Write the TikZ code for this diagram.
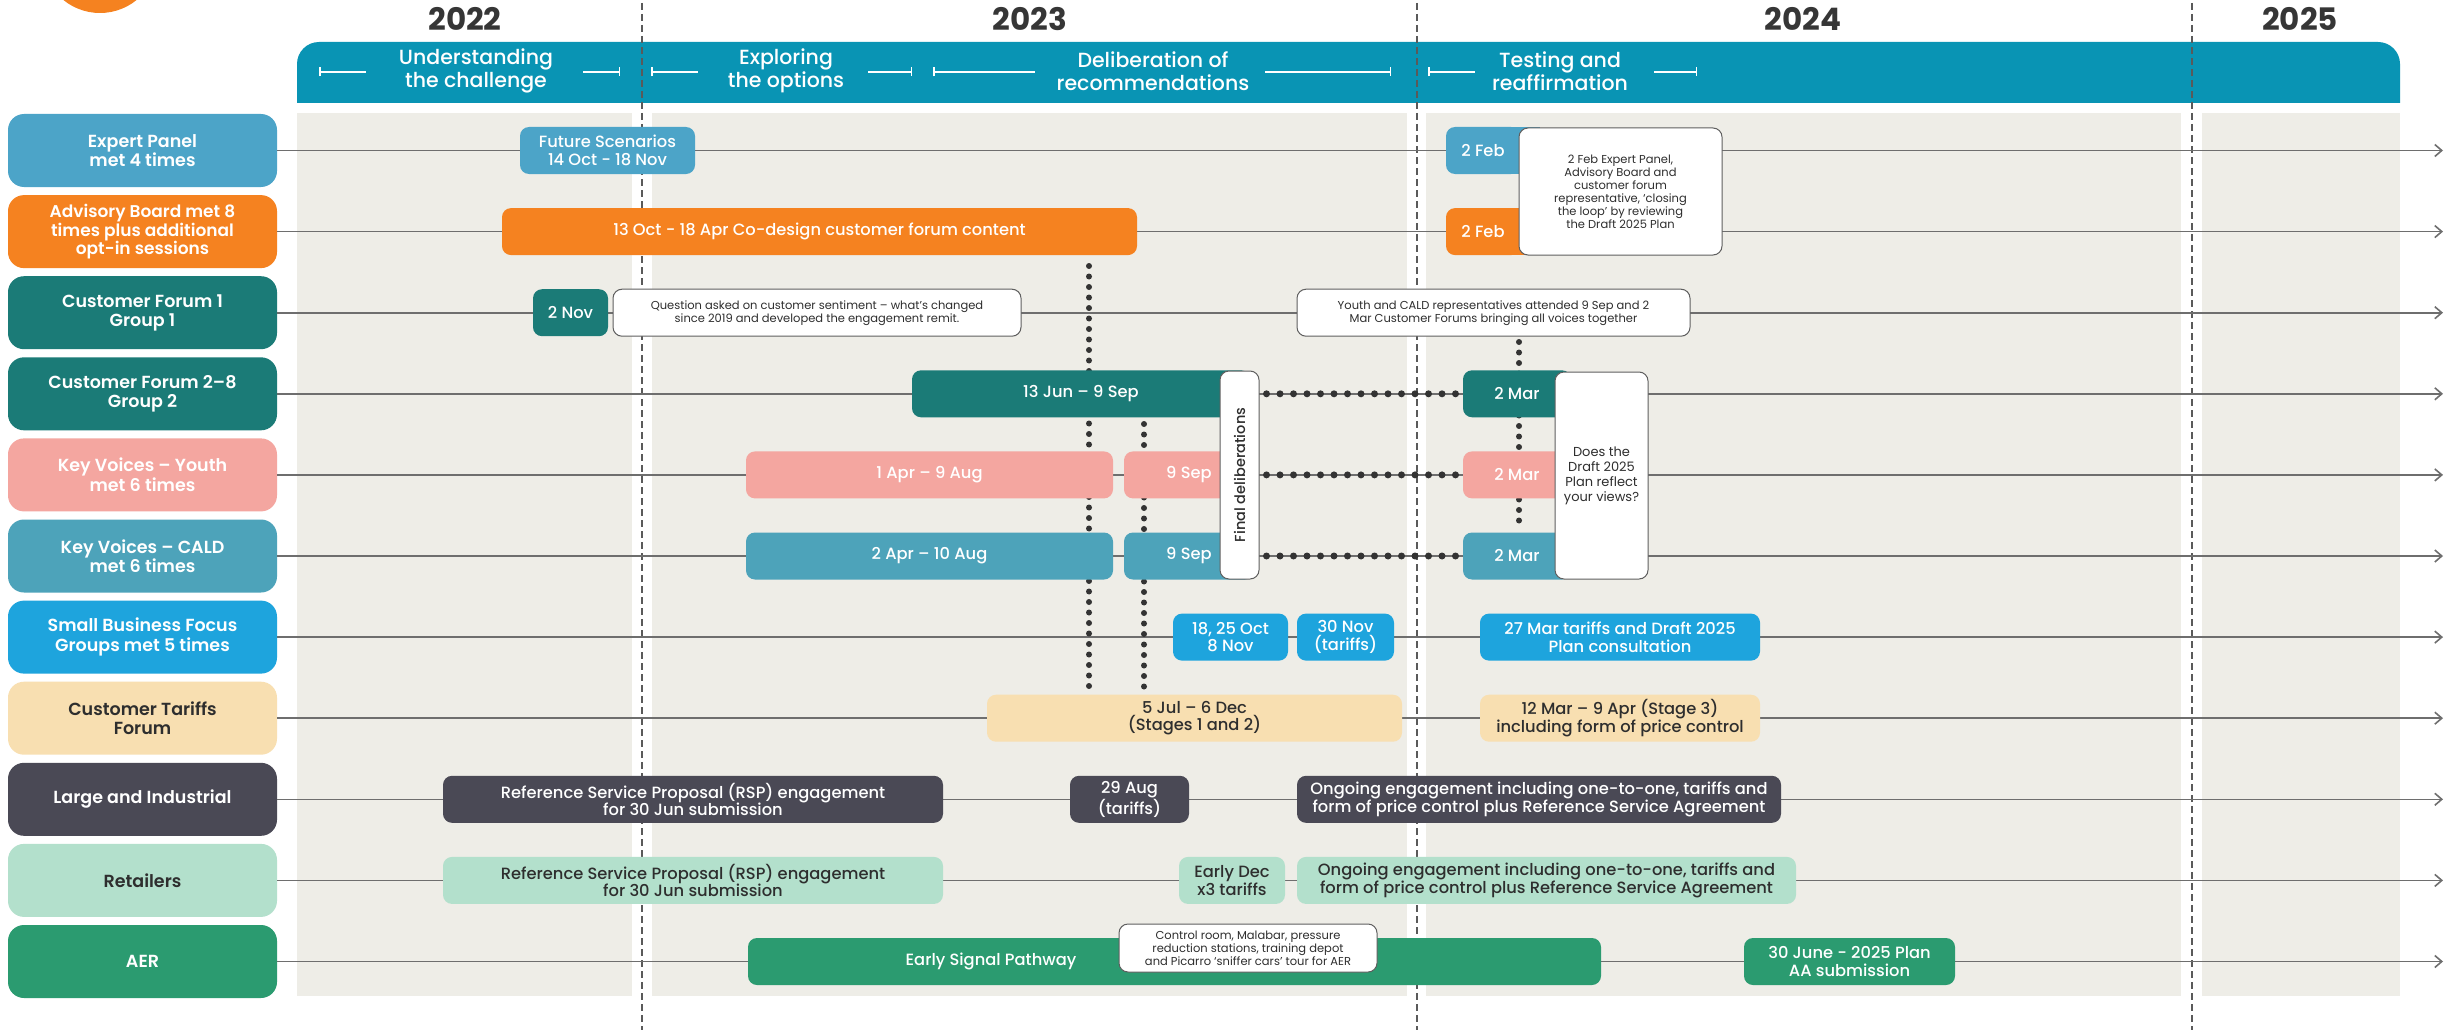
\documentclass[tikz,border=0pt]{standalone}
\usepackage{fontspec}
\setmainfont{Poppins}
\newfontfamily\pmed{Poppins Medium}
\newfontfamily\psemi{Poppins SemiBold}
\usetikzlibrary{arrows.meta}
\definecolor{hdr}{HTML}{0994B4}
\definecolor{panel}{HTML}{EEEDE7}
\definecolor{expc}{HTML}{4CA4C8}
\definecolor{orc}{HTML}{F58220}
\definecolor{teal}{HTML}{1B7B77}
\definecolor{salm}{HTML}{F4A6A0}
\definecolor{cald}{HTML}{4DA3BA}
\definecolor{sbc}{HTML}{1EA4DD}
\definecolor{tarc}{HTML}{F8DFB1}
\definecolor{largec}{HTML}{4A4955}
\definecolor{retc}{HTML}{B3E0CC}
\definecolor{aerc}{HTML}{2B9B70}
\definecolor{textdark}{HTML}{2E2E2E}
\definecolor{yearc}{HTML}{363636}
\definecolor{linegray}{HTML}{6E6E6E}
\definecolor{dashgray}{HTML}{5A5A5A}
\definecolor{dotc}{HTML}{333333}
\definecolor{notegray}{HTML}{5F5F5F}
\begin{document}
\begin{tikzpicture}[x=1pt,y=-1pt,
  lab/.style={rounded corners=16pt, minimum width=269pt, minimum height=73pt, inner sep=0pt, align=center, text=white, font=\psemi\fontsize{17.5}{19.5}\selectfont},
  ev/.style={rounded corners=9pt, minimum height=47pt, inner sep=0pt, align=center, text=white, font=\pmed\fontsize{16.3}{17.5}\selectfont},
  note/.style={draw=notegray, line width=1pt, fill=white, rounded corners=9pt, inner sep=0pt, align=center, text=textdark, font=\fontsize{11.5}{13}\selectfont},
  tl/.style={draw=linegray, line width=1.6pt, -{Straight Barb[length=7pt,width=12pt]}},
  yd/.style={draw=dashgray, line width=1.3pt, dash pattern=on 7pt off 4pt},
  vdots/.style={draw=dotc, line width=6pt, line cap=round, dash pattern=on 0pt off 10.5pt},
  hdots/.style={draw=dotc, line width=7pt, line cap=round, dash pattern=on 0pt off 13.5pt},
  hm/.style={draw=white, line width=1.5pt},
  hdtext/.style={text=white, align=center, font=\pmed\fontsize{20.5}{22.5}\selectfont},
  yr/.style={text=yearc, font=\bfseries\fontsize{31}{33}\selectfont},
]
\useasboundingbox (0,0) rectangle (2448,1030);
\fill[white] (0,0) rectangle (2448,1030);
% top-left orange circle
\fill[orc] (100,-45) circle (58);
% grey panels
\fill[panel] (297,113) rectangle (632,996);
\fill[panel] (652,113) rectangle (1407,996);
\fill[panel] (1426,113) rectangle (2181,996);
\fill[panel] (2202,113) rectangle (2400,996);
% header band
\fill[hdr] (297,103) [rounded corners=22pt] -- (297,42) -- (2400,42) [sharp corners] -- (2400,103) -- cycle;
% years
\node[yr] (y22) at (465,19) {2022};
\node[yr] (y23) at (1030,19) {2023};
\node[yr] (y24) at (1803,19) {2024};
\node[yr] (y25) at (2300,19) {2025};
% header phases
\node[hdtext] (h1) at (476,71) {Understanding\\the challenge};
\node[hdtext] (h2) at (786,71) {Exploring\\the options};
\node[hdtext] (h3) at (1153,71) {Deliberation of\\recommendations};
\node[hdtext] (h4) at (1560,71) {Testing and\\reaffirmation};
\draw[hm,{Bar[width=9pt]}-] (319,72) -- (366,72);
\draw[hm,-{Bar[width=9pt]}] (583,72) -- (620,72);
\draw[hm,{Bar[width=9pt]}-] (651,72) -- (698,72);
\draw[hm,-{Bar[width=9pt]}] (868,72) -- (912,72);
\draw[hm,{Bar[width=9pt]}-] (933,72) -- (1035,72);
\draw[hm,-{Bar[width=9pt]}] (1265,72) -- (1391,72);
\draw[hm,{Bar[width=9pt]}-] (1428,72) -- (1475,72);
\draw[hm,-{Bar[width=9pt]}] (1654,72) -- (1697,72);
% year dividers
\coordinate (d1a) at (642,3); \coordinate (d1b) at (642,1030);
\coordinate (d2a) at (1417,3); \coordinate (d2b) at (1417,1030);
\coordinate (d3a) at (2192,3); \coordinate (d3b) at (2192,1030);
\draw[yd] (d1a) -- (d1b);
\draw[yd] (d2a) -- (d2b);
\draw[yd] (d3a) -- (d3b);
% row labels
\node[lab, fill=expc] (L0) at (142.5,150.5) {Expert Panel\\met 4 times};
\node[lab, fill=orc, font=\psemi\fontsize{17}{17.5}\selectfont] (L1) at (142.5,231.6) {Advisory Board met 8\\times plus additional\\opt-in sessions};
\node[lab, fill=teal] (L2) at (142.5,312.7) {Customer Forum 1\\Group 1};
\node[lab, fill=teal] (L3) at (142.5,393.8) {Customer Forum 2–8\\Group 2};
\node[lab, fill=salm] (L4) at (142.5,474.9) {Key Voices – Youth\\met 6 times};
\node[lab, fill=cald] (L5) at (142.5,556.0) {Key Voices – CALD\\met 6 times};
\node[lab, fill=sbc] (L6) at (142.5,637.1) {Small Business Focus\\Groups met 5 times};
\node[lab, fill=tarc, text=textdark] (L7) at (142.5,718.2) {Customer Tariffs\\Forum};
\node[lab, fill=largec] (L8) at (142.5,799.3) {Large and Industrial};
\node[lab, fill=retc, text=textdark] (L9) at (142.5,880.4) {Retailers};
\node[lab, fill=aerc] (L10) at (142.5,961.5) {AER};
% timelines
\foreach \i/\c in {0/150.5,1/231.6,2/312.7,3/393.8,4/474.9,5/556.0,6/637.1,7/718.2,8/799.3,9/880.4,10/961.5}{
  \coordinate (E\i) at (2443,\c);
  \draw[tl] (L\i.east) -- (E\i);
}
% vertical dotted links
\coordinate (vA1) at (1089,266); \coordinate (vA2) at (1089,690);
\coordinate (vB1) at (1144,424); \coordinate (vB2) at (1144,690);
\coordinate (vC1) at (1519,342); \coordinate (vC2) at (1519,528);
\draw[vdots] (vA1) -- (vA2);
\draw[vdots] (vB1) -- (vB2);
\draw[vdots] (vC1) -- (vC2);
% row 0
\node[ev, fill=expc, minimum width=175pt] (fs) at (607.5,150.5) {Future Scenarios\\14 Oct - 18 Nov};
\fill[expc] (1500,127) rectangle (1540,174);
\node[ev, fill=expc, minimum width=74pt] (ep2) at (1483,150.5) {2 Feb};
% row 1
\node[ev, fill=orc, minimum width=635pt] (ab1) at (819.5,231.6) {13 Oct - 18 Apr Co-design customer forum content};
\fill[orc] (1500,208) rectangle (1540,255);
\node[ev, fill=orc, minimum width=74pt] (ab2) at (1483,231.6) {2 Feb};
% row 2
\node[ev, fill=teal, minimum width=75pt] (cf1) at (570.5,312.7) {2 Nov};
\node[note, minimum width=408pt, minimum height=47pt] (nq) at (817,312.7) {Question asked on customer sentiment – what’s changed\\since 2019 and developed the engagement remit.};
\node[note, minimum width=393pt, minimum height=47pt] (ny) at (1493.5,312.7) {Youth and CALD representatives attended 9 Sep and 2\\Mar Customer Forums bringing all voices together};
% rows 3-5
\node[ev, fill=teal, minimum width=338pt] (cf2a) at (1081,393.8) {13 Jun – 9 Sep};
\node[ev, fill=teal, minimum width=108pt] (cf2b) at (1517,393.8) {2 Mar};
\node[ev, fill=salm, minimum width=367pt] (yv1) at (929.5,474.9) {1 Apr – 9 Aug};
\node[ev, fill=salm, minimum width=130pt] (yv2) at (1189,474.9) {9 Sep};
\node[ev, fill=salm, minimum width=108pt] (yv3) at (1517,474.9) {2 Mar};
\node[ev, fill=cald, minimum width=367pt] (cv1) at (929.5,556.0) {2 Apr – 10 Aug};
\node[ev, fill=cald, minimum width=130pt] (cv2) at (1189,556.0) {9 Sep};
\node[ev, fill=cald, minimum width=108pt] (cv3) at (1517,556.0) {2 Mar};
\node[note, minimum width=39pt, minimum height=208pt] (fd) at (1239.5,475) {};
\node[rotate=90, text=textdark, font=\pmed\fontsize{14.5}{16}\selectfont] (fdt) at (fd.center) {Final deliberations};
\node[note, minimum width=93pt, minimum height=207pt, font=\fontsize{13}{15}\selectfont] (dd) at (1601.5,475.5) {Does the\\Draft 2025\\Plan reflect\\your views?};
\draw[hdots, shorten <=7pt, shorten >=6pt] (fd.east |- cf2a.center) -- (cf2b.west);
\draw[hdots, shorten <=7pt, shorten >=6pt] (fd.east |- yv2.center) -- (yv3.west);
\draw[hdots, shorten <=7pt, shorten >=6pt] (fd.east |- cv2.center) -- (cv3.west);
% row 6
\node[ev, fill=sbc, minimum width=115pt] (sb1) at (1230.5,637.1) {18, 25 Oct\\8 Nov};
\node[ev, fill=sbc, minimum width=97pt] (sb2) at (1345.5,637.1) {30 Nov\\(tariffs)};
\node[ev, fill=sbc, minimum width=280pt] (sb3) at (1620,637.1) {27 Mar tariffs and Draft 2025\\Plan consultation};
% row 7
\node[ev, fill=tarc, text=textdark, minimum width=415pt] (ct1) at (1194.5,718.2) {5 Jul – 6 Dec\\(Stages 1 and 2)};
\node[ev, fill=tarc, text=textdark, minimum width=280pt] (ct2) at (1620,718.2) {12 Mar – 9 Apr (Stage 3)\\including form of price control};
% row 8
\node[ev, fill=largec, minimum width=500pt] (li1) at (693,799.3) {Reference Service Proposal (RSP) engagement\\for 30 Jun submission};
\node[ev, fill=largec, minimum width=119pt] (li2) at (1129.5,799.3) {29 Aug\\(tariffs)};
\node[ev, fill=largec, minimum width=484pt] (li3) at (1539,799.3) {Ongoing engagement including one-to-one, tariffs and\\form of price control plus Reference Service Agreement};
% row 9
\node[ev, fill=retc, text=textdark, minimum width=500pt] (re1) at (693,880.4) {Reference Service Proposal (RSP) engagement\\for 30 Jun submission};
\node[ev, fill=retc, text=textdark, minimum width=106pt] (re2) at (1232,880.4) {Early Dec\\x3 tariffs};
\node[ev, fill=retc, text=textdark, minimum width=499pt] (re3) at (1546.5,880.4) {Ongoing engagement including one-to-one, tariffs and\\form of price control plus Reference Service Agreement};
% row 10
\node[ev, fill=aerc, minimum width=853pt] (aer1) at (1174.5,961.5) {};
\node[text=white, font=\pmed\fontsize{16.3}{17.5}\selectfont] (aer1t) at (991,961.5) {Early Signal Pathway};
\node[note, minimum width=258pt, minimum height=48pt] (tour) at (1248,948) {Control room, Malabar, pressure\\reduction stations, training depot\\and Picarro ‘sniffer cars’ tour for AER};
\node[ev, fill=aerc, minimum width=211pt] (aer2) at (1849.5,961.5) {30 June - 2025 Plan\\AA submission};
% callout over Expert Panel / Advisory Board
\node[note, minimum width=203pt, minimum height=127pt] (loop) at (1620.5,191.5) {2 Feb Expert Panel,\\Advisory Board and\\customer forum\\representative, ‘closing\\the loop’ by reviewing\\the Draft 2025 Plan};
\end{tikzpicture}
\end{document}
